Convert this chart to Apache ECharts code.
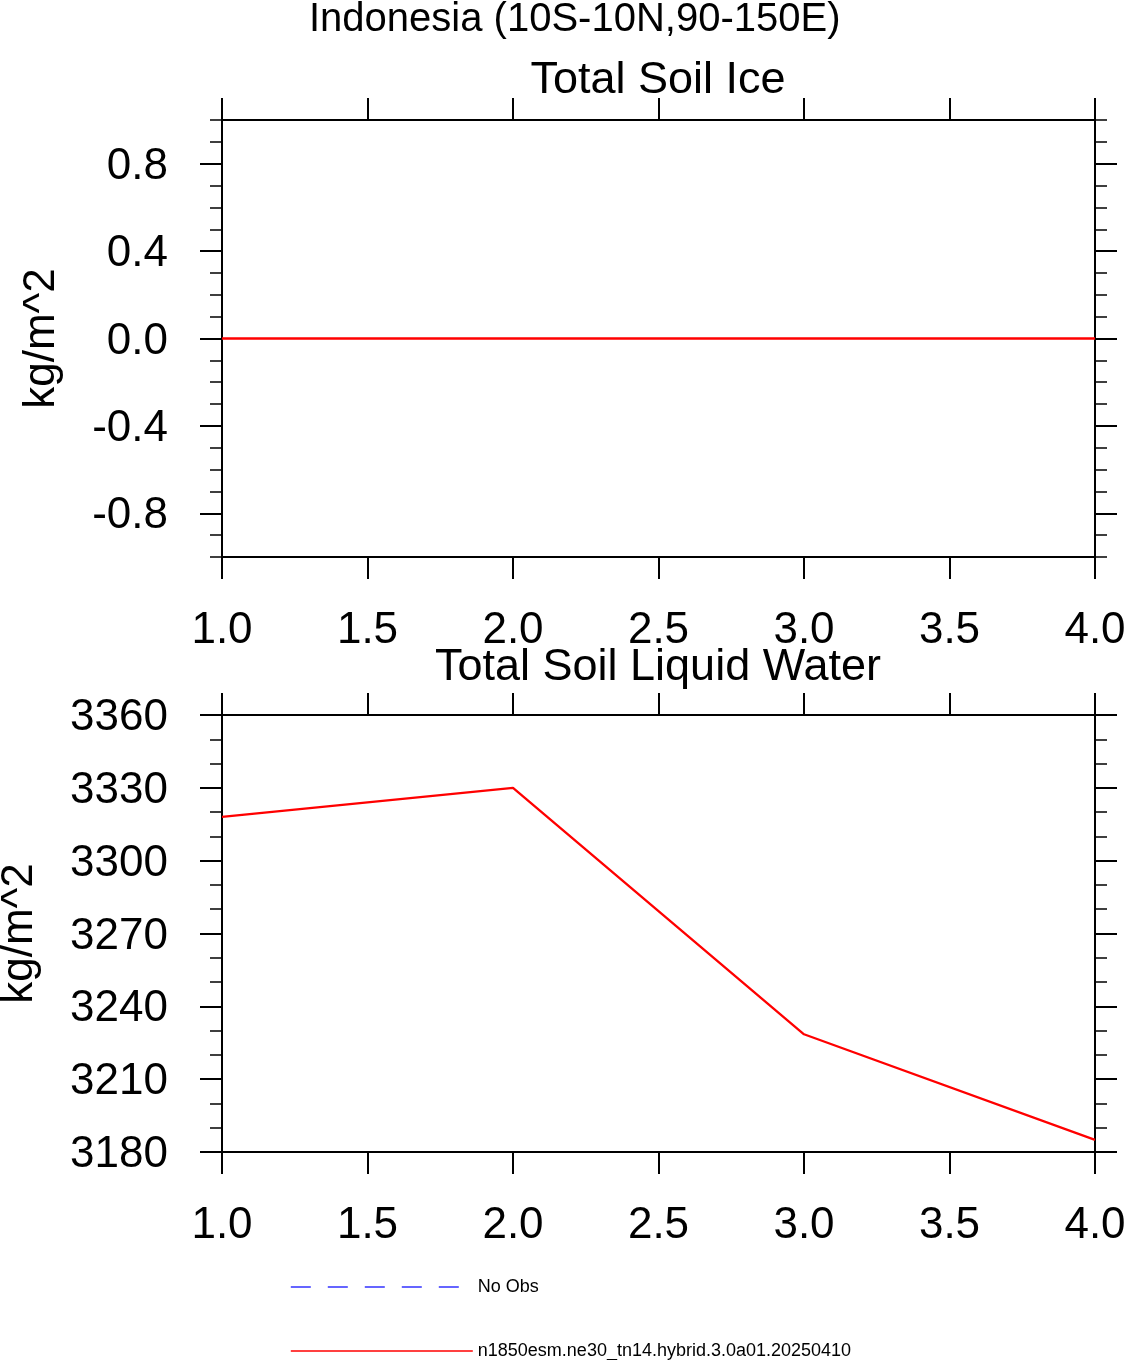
<!DOCTYPE html>
<html lang="en">
  <head>
    <meta charset="UTF-8" />
    <title>Indonesia soil water</title>
    <script src="https://cdn.jsdelivr.net/npm/echarts@6/dist/echarts.min.js"></script>
    <style>
      html, body { margin: 0; padding: 0; background: #fff; }
      #main { width: 1125px; height: 1360px; }
    </style>
  </head>
  <body>
    <div id="main"></div>
    <script>
      // data
      const years = [1, 2, 3, 4];
      const soilIce = [0, 0, 0, 0];
      const soilLiquid = [3318, 3330, 3228.5, 3185];
      const xTicks = [1.0, 1.5, 2.0, 2.5, 3.0, 3.5, 4.0];
      const iceTicks = [-0.8, -0.4, 0.0, 0.4, 0.8];
      const caseName = "n1850esm.ne30_tn14.hybrid.3.0a01.20250410";
      const obsName = "No Obs";

      const font = "'Liberation Sans', Arial, Helvetica, sans-serif";
      const black = "#000";

      const grids = [
        { left: 222, top: 120, width: 873, height: 437, outerBoundsMode: "none", containLabel: false },
        { left: 222, top: 715, width: 873, height: 437, outerBoundsMode: "none", containLabel: false },
      ];

      const xAxisFor = (gridIndex, position, showLabel) => ({
        type: "value",
        gridIndex,
        position,
        min: xTicks[0],
        max: xTicks[xTicks.length - 1],
        interval: 0.5,
        axisLine: { show: true, onZero: false, lineStyle: { color: black, width: 2 } },
        axisTick: { show: true, inside: false, length: 22, lineStyle: { color: black, width: 2 } },
        axisLabel: {
          show: showLabel,
          margin: 52,
          fontSize: 44,
          fontFamily: font,
          color: black,
          formatter: (v) => v.toFixed(1),
        },
        splitLine: { show: false },
      });

      const yAxisFor = (gridIndex, position, opts) => ({
        type: "value",
        gridIndex,
        position,
        min: opts.min,
        max: opts.max,
        interval: opts.interval,
        axisLine: { show: true, onZero: false, lineStyle: { color: black, width: 2 } },
        axisTick: Object.assign(
          { show: true, inside: false, length: opts.tickLen, lineStyle: { color: black, width: opts.tickWidth } },
          opts.tickValues ? { customValues: opts.tickValues } : {}
        ),
        axisLabel: Object.assign(
          {
            show: !!opts.label,
            margin: 54,
            fontSize: 44,
            fontFamily: font,
            color: black,
            formatter: (v) => "{t|" + (opts.label ? opts.label(v) : v) + "}",
            rich: { t: { fontSize: 44, fontFamily: font, color: black, padding: [6, 0, 0, 0] } },
          },
          opts.tickValues ? { customValues: opts.tickValues } : {}
        ),
        splitLine: { show: false },
        name: opts.name || "",
        nameLocation: "middle",
        nameGap: opts.nameGap || 0,
        nameRotate: 90,
        nameTextStyle: { fontSize: 44, fontFamily: font, color: black },
      });

      const iceFmt = (v) => (Math.abs(v) < 1e-9 ? "0.0" : v.toFixed(1));

      const legendFor = (name, top) => ({
        orient: "vertical",
        left: 290,
        top,
        padding: 0,
        itemWidth: 182,
        itemHeight: 20,
        selectedMode: false,
        textStyle: { fontSize: 18, fontFamily: font, color: black },
        itemStyle: { opacity: 0, color: "rgba(0,0,0,0)", borderWidth: 0 },
        lineStyle: { width: 1.6 },
        data: [name],
      });

      const option = {
        animation: false,
        backgroundColor: "#fff",
        grid: grids,
        xAxis: [
          xAxisFor(0, "bottom", true),
          xAxisFor(0, "top", false),
          xAxisFor(1, "bottom", true),
          xAxisFor(1, "top", false),
        ],
        yAxis: [
          // top panel
          yAxisFor(0, "left", { min: -1, max: 1, tickValues: iceTicks, tickLen: 22, tickWidth: 2, label: iceFmt, name: "kg/m^2", nameGap: 158 }),
          yAxisFor(0, "left", { min: -1, max: 1, interval: 0.1, tickLen: 12, tickWidth: 1.5 }),
          yAxisFor(0, "right", { min: -1, max: 1, tickValues: iceTicks, tickLen: 22, tickWidth: 2 }),
          yAxisFor(0, "right", { min: -1, max: 1, interval: 0.1, tickLen: 12, tickWidth: 1.5 }),
          // bottom panel
          yAxisFor(1, "left", { min: 3180, max: 3360, interval: 30, tickLen: 22, tickWidth: 2, label: (v) => String(v), name: "kg/m^2", nameGap: 180 }),
          yAxisFor(1, "left", { min: 3180, max: 3360, interval: 10, tickLen: 12, tickWidth: 1.5 }),
          yAxisFor(1, "right", { min: 3180, max: 3360, interval: 30, tickLen: 22, tickWidth: 2 }),
          yAxisFor(1, "right", { min: 3180, max: 3360, interval: 10, tickLen: 12, tickWidth: 1.5 }),
        ],
        legend: [legendFor(obsName, 1278), legendFor(caseName, 1342)],
        graphic: [
          {
            type: "text",
            left: 572 - 263,
            top: 0,
            style: { text: "Indonesia (10S-10N,90-150E)", fontSize: 40, fontFamily: font, fill: black },
          },
          {
            type: "text",
            x: 658,
            y: 81,
            style: { text: "Total Soil Ice", fontSize: 45, fontFamily: font, fill: black, align: "center", verticalAlign: "middle" },
          },
          {
            type: "text",
            x: 658,
            y: 668,
            style: { text: "Total Soil Liquid Water", fontSize: 45, fontFamily: font, fill: black, align: "center", verticalAlign: "middle" },
          },
        ],
        series: [
          {
            name: caseName,
            type: "line",
            xAxisIndex: 0,
            yAxisIndex: 0,
            symbol: "none",
            lineStyle: { color: "#ff0000", width: 2.3 },
            itemStyle: { color: "#ff0000" },
            data: years.map((x, i) => [x, soilIce[i]]),
          },
          {
            name: obsName,
            type: "line",
            xAxisIndex: 2,
            yAxisIndex: 4,
            symbol: "none",
            lineStyle: { color: "#3333ff", width: 1.5, type: [20, 17] },
            itemStyle: { color: "#3333ff" },
            data: [],
          },
          {
            name: caseName,
            type: "line",
            xAxisIndex: 2,
            yAxisIndex: 4,
            symbol: "none",
            lineStyle: { color: "#ff0000", width: 2.3 },
            itemStyle: { color: "#ff0000" },
            data: years.map((x, i) => [x, soilLiquid[i]]),
          },
        ],
      };

      const chart = echarts.init(document.getElementById("main"));
      chart.setOption(option);
    </script>
  </body>
</html>
